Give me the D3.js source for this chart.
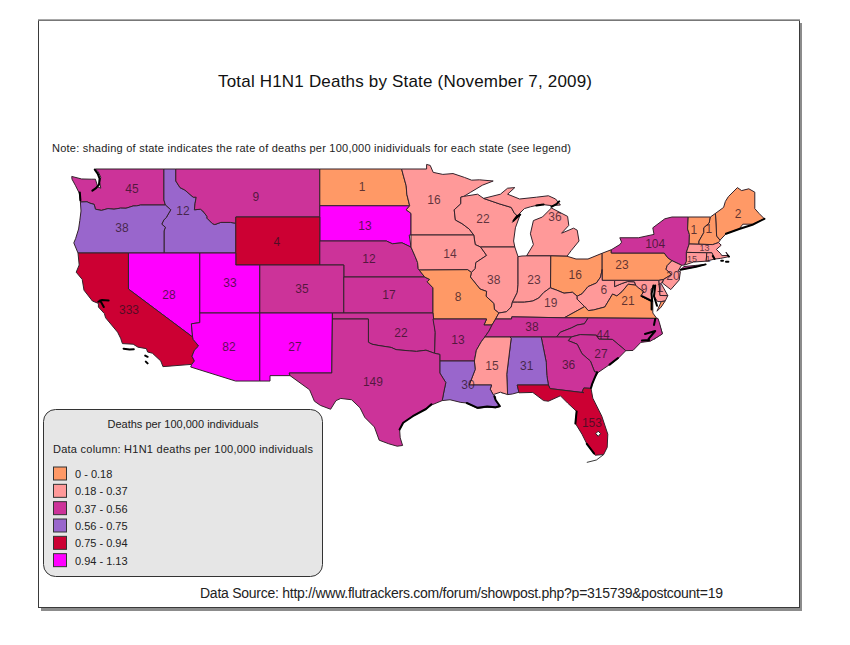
<!DOCTYPE html>
<html>
<head>
<meta charset="utf-8">
<title>Total H1N1 Deaths by State</title>
<script src="https://cdn.jsdelivr.net/npm/d3@7"></script>
<style>
    body { margin: 0; background: #fff; }
    text { font-family: "Liberation Sans", Arial, sans-serif; }
</style>
</head>
<body>
<svg id="chart" width="850" height="645"></svg>
<script>
//chart values
const legendRanges = ["0 - 0.18", "0.18 - 0.37", "0.37 - 0.56", "0.56 - 0.75", "0.75 - 0.94", "0.94 - 1.13"];
const legendColors = ["#ff9966", "#ff9999", "#cc3399", "#9966cc", "#cc0033", "#ff00ff"];

const stateNames = ["WA","ID","MT","ND","SD","MN","WI","MI","OR","WY","NE","IA","IL","IN","OH","PA","NY","NV","UT","CO","KS","MO","KY","WV","VA","CA","AZ","NM","OK","AR","TN","NC","SC","GA","AL","MS","LA","TX","FL","ME","VT","NH","MA","CT","RI","NJ","MD","DE"];
const stateDeaths = [45,12,9,1,13,16,22,36,38,4,12,14,38,23,16,23,104,28,33,35,17,8,19,6,21,333,82,27,22,13,38,44,27,36,31,15,30,149,153,2,1,1,13,15,1,20,9,1];
//index into legendRanges
const stateClass = [2,3,2,0,5,1,1,1,3,4,2,1,1,1,0,0,2,5,5,2,2,0,1,1,0,4,5,5,2,2,2,2,2,2,3,1,3,2,4,0,0,0,1,1,1,1,1,1];
//label anchors, lon/lat
const labelLon = [-119.7,-115.45,-109.37,-100.53,-100.28,-94.53,-90.45,-84.45,-120.53,-107.62,-99.95,-93.2,-89.55,-86.2,-82.77,-78.87,-76.1,-116.62,-111.53,-105.53,-98.28,-92.53,-84.8,-80.37,-78.37,-119.95,-111.62,-106.12,-97.28,-92.53,-86.37,-80.45,-80.62,-83.32,-86.8,-89.7,-91.7,-99.62,-81.37,-69.2,-72.87,-71.62,-72.0,-73.03,-71.7,-74.62,-77.02,-75.7];
const labelLat = [47.33,45.5,46.67,47.5,44.25,46.42,44.83,45.0,44.08,42.92,41.5,41.92,39.75,39.75,40.17,41.0,42.75,38.5,39.5,39.0,38.5,38.33,37.83,38.92,38.0,37.25,34.17,34.17,35.33,34.75,35.83,35.17,33.58,32.67,32.58,32.58,31.0,31.25,27.83,45.25,43.92,44.0,42.42,41.5,41.5,40.08,39.0,39.08];
//states too small for the normal label size
const smallLabels = ["MA", "CT", "RI"];

//state outlines, lon/lat
const stateRings = {
    WA: [[[-122.75,49],[-117.04,49],[-117.04,46.42],[-116.92,46],[-118.98,46],[-119.3,45.93],[-119.6,45.92],[-120.2,45.73],[-120.65,45.74],[-121.2,45.65],[-121.7,45.7],[-122.25,45.55],[-122.75,45.65],[-122.85,46.05],[-123.2,46.15],[-123.45,46.27],[-124.0,46.25],[-124.05,46.7],[-124.1,47.0],[-124.4,47.6],[-124.7,48.15],[-124.72,48.38],[-123.9,48.17],[-123.1,48.15],[-122.75,48.15],[-122.55,47.5],[-122.3,47.4],[-122.4,47.9],[-122.3,48.3],[-122.5,48.75]]],
    OR: [[[-124.0,46.25],[-123.95,45.5],[-124.05,44.7],[-124.15,44],[-124.4,43.2],[-124.55,42.84],[-124.2,42],[-117.03,42],[-117.03,43.83],[-116.92,44.15],[-117.22,44.4],[-117.05,44.75],[-116.85,44.95],[-116.47,45.6],[-116.92,46],[-118.98,46],[-119.3,45.93],[-119.6,45.92],[-120.2,45.73],[-120.65,45.74],[-121.2,45.65],[-121.7,45.7],[-122.25,45.55],[-122.75,45.65],[-122.85,46.05],[-123.2,46.15],[-123.45,46.27]]],
    ID: [[[-117.04,49],[-116.05,49],[-116.05,48],[-115.7,47.45],[-115.3,47.25],[-114.95,46.95],[-114.6,46.65],[-114.35,46.65],[-114.45,46.1],[-114.5,45.6],[-114,45.65],[-113.8,45.5],[-113.45,45.05],[-113.45,44.9],[-113,44.45],[-112.8,44.37],[-112.3,44.55],[-111.5,44.55],[-111.05,44.48],[-111.05,42],[-117.03,42],[-117.03,43.83],[-116.92,44.15],[-117.22,44.4],[-117.05,44.75],[-116.85,44.95],[-116.47,45.6],[-116.92,46],[-117.04,46.42]]],
    MT: [[[-116.05,49],[-104.05,49],[-104.05,45],[-111.05,45],[-111.05,44.48],[-111.5,44.55],[-112.3,44.55],[-112.8,44.37],[-113,44.45],[-113.45,44.9],[-113.45,45.05],[-113.8,45.5],[-114,45.65],[-114.5,45.6],[-114.45,46.1],[-114.35,46.65],[-114.6,46.65],[-114.95,46.95],[-115.3,47.25],[-115.7,47.45],[-116.05,48]]],
    WY: [[[-111.05,45],[-104.05,45],[-104.05,41],[-111.05,41]]],
    ND: [[[-104.05,49],[-97.23,49],[-97.1,48.5],[-96.85,47.6],[-96.8,46.9],[-96.56,45.93],[-104.05,45.94]]],
    SD: [[[-104.05,45.94],[-96.56,45.93],[-96.85,45.6],[-96.45,45.3],[-96.45,43.5],[-96.6,43.5],[-96.45,42.49],[-97.2,42.85],[-98,42.77],[-98.5,43],[-104.05,43]]],
    NE: [[[-104.05,43],[-98.5,43],[-98,42.77],[-97.2,42.85],[-96.45,42.49],[-96.1,41.7],[-95.9,41.2],[-95.85,40.7],[-95.31,40],[-102.05,40],[-102.05,41],[-104.05,41]]],
    MN: [[[-97.23,49],[-95.15,49],[-95.15,49.38],[-94.85,49.3],[-94.6,48.72],[-93.8,48.55],[-92.95,48.62],[-92,48.3],[-91.4,48.07],[-90.75,48.1],[-89.6,48],[-90.5,47.65],[-91.5,47.05],[-92.05,46.72],[-92.3,46.65],[-92.3,46.1],[-92.85,45.6],[-92.75,44.75],[-92.2,44.45],[-91.6,44],[-91.22,43.5],[-96.45,43.5],[-96.45,45.3],[-96.85,45.6],[-96.56,45.93],[-96.8,46.9],[-96.85,47.6],[-97.1,48.5]]],
    IA: [[[-96.45,43.5],[-91.22,43.5],[-91.1,42.7],[-90.65,42.5],[-90.15,41.8],[-91.05,41.2],[-91.1,40.7],[-91.42,40.38],[-91.73,40.61],[-95.77,40.58],[-95.85,40.7],[-95.9,41.2],[-96.1,41.7],[-96.45,42.49]]],
    MO: [[[-95.77,40.58],[-91.73,40.61],[-91.42,40.38],[-91.5,40],[-90.7,39],[-90.15,38.8],[-90.2,38.4],[-89.55,37.8],[-89.5,37.3],[-89.13,37],[-89.4,36.5],[-89.7,36],[-90.37,36],[-90.15,36.5],[-94.62,36.5],[-94.62,39.1],[-95.1,39.6],[-94.9,39.8],[-95.31,40]]],
    KS: [[[-102.05,40],[-95.31,40],[-94.9,39.8],[-95.1,39.6],[-94.62,39.1],[-94.62,37],[-102.05,37]]],
    CO: [[[-109.05,41],[-102.05,41],[-102.05,37],[-109.05,37]]],
    UT: [[[-114.05,42],[-111.05,42],[-111.05,41],[-109.05,41],[-109.05,37],[-114.05,37]]],
    NV: [[[-120,42],[-114.05,42],[-114.05,36.2],[-114.75,36.1],[-114.65,35],[-120,39]]],
    CA: [[[-124.2,42],[-120,42],[-120,39],[-114.65,35],[-114.6,34.8],[-114.15,34.25],[-114.5,33.9],[-114.7,33.4],[-114.5,33],[-114.72,32.72],[-117.12,32.53],[-117.3,33],[-118,33.65],[-118.4,33.75],[-118.5,34.03],[-119.2,34.15],[-119.6,34.4],[-120.5,34.45],[-120.65,34.9],[-120.9,35.4],[-121.9,36.6],[-122,36.95],[-122.5,37.5],[-122.5,37.8],[-123,38],[-123.7,38.9],[-123.85,39.8],[-124.35,40.4],[-124.1,41]]],
    AZ: [[[-114.05,37],[-109.05,37],[-109.05,31.33],[-111.07,31.33],[-114.81,32.5],[-114.72,32.72],[-114.5,33],[-114.7,33.4],[-114.5,33.9],[-114.15,34.25],[-114.6,34.8],[-114.65,35],[-114.75,36.1],[-114.05,36.2]]],
    NM: [[[-109.05,37],[-103,37],[-103.05,32],[-106.6,32],[-106.53,31.78],[-108.2,31.78],[-108.2,31.33],[-109.05,31.33]]],
    OK: [[[-103,37],[-94.62,37],[-94.43,35.4],[-94.48,33.64],[-95.2,33.9],[-96,33.8],[-96.6,33.85],[-97.2,33.9],[-97.7,33.95],[-98.1,34.13],[-99.2,34.3],[-99.7,34.4],[-100,34.56],[-100,36.5],[-103,36.5]]],
    TX: [[[-103,36.5],[-100,36.5],[-100,34.56],[-99.7,34.4],[-99.2,34.3],[-98.1,34.13],[-97.7,33.95],[-97.2,33.9],[-96.6,33.85],[-96,33.8],[-95.2,33.9],[-94.48,33.64],[-94.05,33.55],[-94.05,33],[-94.05,32],[-93.55,31.2],[-93.7,30.5],[-93.85,29.7],[-94.7,29.35],[-95.2,29],[-96.3,28.4],[-97.1,27.85],[-97.4,27.3],[-97.35,26.6],[-97.15,25.96],[-97.6,25.9],[-98.3,26.1],[-99.1,26.4],[-99.5,27.5],[-100.3,28.3],[-100.7,29.1],[-101.4,29.77],[-102.3,29.88],[-102.7,29.7],[-103.15,28.98],[-104,29.3],[-104.5,29.65],[-104.9,30.6],[-106.53,31.78],[-106.6,32],[-103.05,32]]],
    AR: [[[-94.62,36.5],[-90.15,36.5],[-90.37,36],[-89.7,36],[-89.95,35.5],[-90.3,35],[-90.6,34.6],[-91,33.9],[-91.17,33],[-94.05,33],[-94.05,33.55],[-94.48,33.64],[-94.43,35.4]]],
    LA: [[[-94.05,33],[-91.17,33],[-91.1,32.3],[-91.6,31],[-89.73,31],[-89.85,30.65],[-89.6,30.2],[-89.4,30],[-89.4,29.7],[-89,29.2],[-89.4,29.1],[-90.1,29.15],[-90.9,29.05],[-91.8,29.5],[-92.3,29.55],[-93.2,29.77],[-93.85,29.7],[-93.7,30.5],[-93.55,31.2],[-94.05,32]]],
    MS: [[[-90.3,35],[-88.2,35],[-88.1,34.9],[-88.47,31.9],[-88.4,30.2],[-89,30.4],[-89.6,30.2],[-89.85,30.65],[-89.73,31],[-91.6,31],[-91.1,32.3],[-91.17,33],[-91,33.9],[-90.6,34.6]]],
    TN: [[[-90.3,35],[-89.95,35.5],[-89.7,36],[-89.4,36.5],[-88.07,36.5],[-88.05,36.68],[-83.68,36.6],[-81.68,36.59],[-82,36.1],[-82.6,36],[-83.1,35.75],[-84,35.4],[-84.32,35],[-88.2,35]]],
    KY: [[[-89.4,36.5],[-89.13,37],[-88.5,37.1],[-88.1,37.5],[-88,37.9],[-87.6,37.9],[-87,37.9],[-86.3,38],[-85.8,38.25],[-85.4,38.7],[-84.85,39.1],[-84.3,38.9],[-83.7,38.65],[-83,38.73],[-82.6,38.4],[-82.6,38.15],[-82,37.55],[-81.97,37.54],[-83.68,36.6],[-88.05,36.68],[-88.07,36.5]]],
    IL: [[[-90.65,42.5],[-87.8,42.5],[-87.55,41.75],[-87.53,41.7],[-87.53,39.35],[-87.6,38.7],[-88,37.9],[-88.1,37.5],[-88.5,37.1],[-89.13,37],[-89.5,37.3],[-89.55,37.8],[-90.2,38.4],[-90.15,38.8],[-90.7,39],[-91.5,40],[-91.42,40.38],[-91.1,40.7],[-91.05,41.2],[-90.15,41.8]]],
    IN: [[[-87.53,41.7],[-87.2,41.75],[-86.82,41.76],[-84.8,41.76],[-84.82,39.1],[-84.85,39.1],[-85.4,38.7],[-85.8,38.25],[-86.3,38],[-87,37.9],[-87.6,37.9],[-88,37.9],[-87.6,38.7],[-87.53,39.35]]],
    OH: [[[-84.8,41.76],[-83.45,41.73],[-82.7,41.5],[-81.7,41.5],[-80.52,41.98],[-80.52,40.64],[-80.65,40],[-81,39.5],[-81.7,39.2],[-82.2,38.6],[-82.6,38.4],[-83,38.73],[-83.7,38.65],[-84.3,38.9],[-84.82,39.1]]],
    PA: [[[-80.52,41.98],[-79.76,42.27],[-79.76,42],[-75.35,42],[-75.05,41.6],[-74.7,41.36],[-75.1,40.95],[-75.2,40.65],[-74.75,40.2],[-75.4,39.8],[-75.79,39.72],[-80.52,39.72],[-80.52,40.64]]],
    WV: [[[-80.52,40.64],[-80.52,39.72],[-79.48,39.72],[-79.48,39.2],[-78.9,39.45],[-78.4,39.62],[-77.83,39.6],[-77.72,39.32],[-78.35,39.4],[-78.87,38.77],[-79.3,38.42],[-79.65,38.58],[-80.3,37.5],[-81.25,37.25],[-81.68,37.2],[-81.97,37.54],[-82,37.55],[-82.6,38.15],[-82.6,38.4],[-82.2,38.6],[-81.7,39.2],[-81,39.5],[-80.65,40]]],
    VA: [[[-83.68,36.6],[-81.97,37.54],[-81.68,37.2],[-81.25,37.25],[-80.3,37.5],[-79.65,38.58],[-79.3,38.42],[-78.87,38.77],[-78.35,39.4],[-77.72,39.32],[-77.5,39.1],[-77.05,38.8],[-77.3,38.4],[-76.3,37.95],[-76.3,37.5],[-76.3,37],[-75.97,36.55],[-81.68,36.59]],[[-75.95,37.15],[-75.6,37.95],[-75.25,38.03],[-75.6,37.5]]],
    NC: [[[-81.68,36.59],[-75.87,36.55],[-75.75,36.2],[-75.5,35.25],[-76.5,34.65],[-77.3,34.55],[-77.95,33.88],[-78.55,33.86],[-79.67,34.8],[-80.8,34.82],[-81,35.15],[-82.35,35.2],[-83.1,35],[-84.32,35],[-84,35.4],[-83.1,35.75],[-82.6,36],[-82,36.1]]],
    SC: [[[-83.1,35],[-82.35,35.2],[-81,35.15],[-80.8,34.82],[-79.67,34.8],[-78.55,33.86],[-79.2,33.2],[-79.9,32.7],[-80.85,32.05],[-81.15,32.1],[-81.5,33],[-82.2,33.6],[-82.6,34.4],[-83.35,34.7]]],
    GA: [[[-85.6,35],[-84.32,35],[-83.1,35],[-83.35,34.7],[-82.6,34.4],[-82.2,33.6],[-81.5,33],[-81.15,32.1],[-80.85,32.05],[-81.2,31.5],[-81.45,30.72],[-82.05,30.75],[-82.2,30.4],[-82.05,30.36],[-84.86,30.7],[-85,31],[-85.13,31.8],[-85.18,32.9]]],
    AL: [[[-88.2,35],[-85.6,35],[-85.18,32.9],[-85.13,31.8],[-85,31],[-87.6,31],[-87.45,30.4],[-88,30.25],[-88.4,30.2],[-88.47,31.9],[-88.1,34.9]]],
    FL: [[[-87.6,31],[-85,31],[-84.86,30.7],[-82.05,30.36],[-82.2,30.4],[-82.05,30.75],[-81.45,30.72],[-81.3,29.9],[-80.55,28.4],[-80.05,26.9],[-80.1,25.8],[-80.4,25.2],[-81.1,25.15],[-81.8,26.1],[-82.2,26.9],[-82.75,27.8],[-82.65,28.8],[-83.4,29.5],[-84,30.1],[-85,29.65],[-85.4,29.7],[-86.3,30.38],[-87.45,30.35]]],
    MI: [[[-86.82,41.76],[-84.8,41.76],[-83.45,41.73],[-83.1,42.2],[-82.45,43],[-82.6,43.9],[-82.9,44.07],[-83.9,43.65],[-83.3,44.3],[-83.4,45.05],[-84.75,45.75],[-85.5,45],[-86.25,44.7],[-86.5,43.6],[-86.25,42.7]],[[-90.4,46.55],[-89,46.9],[-88.4,47.4],[-87.8,47.45],[-88.4,46.9],[-87.4,46.5],[-86,46.65],[-85,46.77],[-84.4,46.5],[-84,46],[-84.75,45.95],[-85.6,46.05],[-86.5,45.85],[-87,45.7],[-87.6,45.1],[-87.85,45.35],[-88.1,45.8],[-89.1,46.1]]],
    WI: [[[-92.05,46.72],[-90.9,46.9],[-90.4,46.55],[-89.1,46.1],[-88.1,45.8],[-87.85,45.35],[-87.6,45.1],[-88,44.55],[-87.35,45.2],[-87.75,44.1],[-87.9,43],[-87.8,42.5],[-90.65,42.5],[-91.1,42.7],[-91.22,43.5],[-91.6,44],[-92.2,44.45],[-92.75,44.75],[-92.85,45.6],[-92.3,46.1],[-92.3,46.65]]],
    NY: [[[-79.76,42.27],[-79.05,42.7],[-78.9,42.9],[-79.05,43.27],[-77.5,43.27],[-76.2,43.55],[-76.3,44.1],[-75.3,44.85],[-74.7,45],[-73.35,45],[-73.4,44],[-73.25,43.55],[-73.27,42.75],[-73.5,42.05],[-73.5,41.3],[-73.65,41],[-73.9,40.98],[-74.7,41.36],[-75.05,41.6],[-75.35,42],[-79.76,42]],[[-74,40.6],[-72.7,40.85],[-71.9,41.05],[-72.6,40.98],[-73.7,40.87]]],
    VT: [[[-73.35,45],[-71.5,45],[-71.6,44.5],[-72.05,44.1],[-72.05,43.7],[-72.45,43],[-72.46,42.73],[-73.27,42.75],[-73.25,43.55],[-73.4,44]]],
    NH: [[[-71.5,45],[-71.08,45.3],[-70.98,43.4],[-70.7,43.07],[-70.82,42.87],[-71.3,42.7],[-72.46,42.73],[-72.45,43],[-72.05,43.7],[-72.05,44.1],[-71.6,44.5]]],
    ME: [[[-71.08,45.3],[-70.4,45.8],[-70.25,46.3],[-70,46.7],[-69.25,47.45],[-68.9,47.2],[-68.3,47.35],[-67.8,47.07],[-67.8,45.7],[-67.45,45.3],[-67,44.85],[-68,44.4],[-68.8,44.4],[-69.1,44],[-70.2,43.6],[-70.7,43.07],[-70.98,43.4]]],
    MA: [[[-73.5,42.05],[-73.27,42.75],[-72.46,42.73],[-71.3,42.7],[-70.82,42.87],[-70.6,42.65],[-71,42.3],[-70.65,41.95],[-70.55,41.78],[-70.05,41.8],[-70.2,42.07],[-69.95,41.7],[-70.65,41.55],[-71.13,41.5],[-71.38,42.02],[-71.8,42.02]]],
    RI: [[[-71.8,42.02],[-71.38,42.02],[-71.13,41.5],[-71.85,41.32]]],
    CT: [[[-73.5,42.05],[-71.8,42.02],[-71.85,41.32],[-72.9,41.25],[-73.65,41],[-73.5,41.3]]],
    NJ: [[[-74.7,41.36],[-73.9,40.98],[-74.2,40.5],[-74,40.45],[-74.1,39.75],[-74.8,38.95],[-75.5,39.5],[-75.4,39.8],[-74.75,40.2],[-75.2,40.65],[-75.1,40.95]]],
    DE: [[[-75.79,39.72],[-75.4,39.8],[-75.6,39.45],[-75.05,38.45],[-75.7,38.46]]],
    MD: [[[-79.48,39.72],[-75.79,39.72],[-75.7,38.46],[-75.05,38.45],[-75.25,38.03],[-75.6,37.95],[-75.9,37.95],[-76.2,38.4],[-76.1,39.2],[-76.45,39],[-76.4,38.3],[-76.3,37.95],[-77.3,38.4],[-77.05,38.8],[-77.5,39.1],[-77.72,39.32],[-77.83,39.6],[-78.4,39.62],[-78.9,39.45],[-79.48,39.2]]]
};

//heavy black shoreline detail, lon/lat
const heavyCoast = [
    [[-122.8,48.95],[-122.55,48.6],[-122.4,48.2],[-122.45,47.7],[-122.7,47.4],[-123,47.2]],
    [[-124.05,47.05],[-124,46.4]],
    [[-122.5,37.95],[-122.2,38.08],[-121.65,38.05]],
    [[-122.35,38.05],[-122.05,37.5]],
    [[-120.4,34.02],[-119.9,33.95],[-119.55,33.98]],
    [[-118.6,33.45],[-118.4,33.35]],
    [[-118.55,32.95],[-118.4,32.8]],
    [[-94.75,29.4],[-95.2,29],[-96.3,28.4],[-97.1,27.85],[-97.4,27.3]],
    [[-91.8,29.5],[-90.9,29.1],[-90.1,29.2],[-89.4,29.15],[-89.05,29.25],[-89.4,29.75],[-89.5,30.05]],
    [[-82.75,27.8],[-82.65,28.8]],
    [[-81.8,26.1],[-81.2,25.3]],
    [[-76.95,35.25],[-76.1,35.5],[-76.65,34.85]],
    [[-77.2,34.7],[-76.6,34.75]],
    [[-76.1,36.5],[-76.2,36]],
    [[-80.95,32.05],[-81.35,31.1],[-81.45,30.75]],
    [[-79.9,32.7],[-79.2,33.25]],
    [[-76.25,39.3],[-76.4,38.6],[-76.35,38]],
    [[-77.2,38.4],[-76.4,38],[-76.4,37.3]],
    [[-76.1,39.3],[-76.2,38.4],[-75.95,37.6]],
    [[-74,40.6],[-72.7,40.85],[-71.9,41.05]],
    [[-70.2,43.6],[-69.1,44],[-68,44.35],[-67,44.85]],
    [[-71.3,41.75],[-71.15,41.5]],
    [[-70.6,41.35],[-70.45,41.35]],
    [[-70.2,41.28],[-70,41.28]],
    [[-70.05,41.8],[-69.95,41.7]],
    [[-84.75,45.85],[-84.3,46.1],[-84.1,46.3]],
    [[-87.6,45.1],[-87.9,44.7],[-87.35,45.2]],
    [[-86,45.95],[-85.4,46.05]]
];
//thin offshore lines, lon/lat
const thinCoast = [
    [[-75.9,36.5],[-75.5,35.3],[-76.2,34.8]],
    [[-81.8,24.55],[-81,24.75],[-80.4,25.2]],
    [[-88.9,30.35],[-88.1,30.3]]
];
const lakeOkeechobee = [[-81.05,26.95],[-80.85,27.15],[-80.65,26.95],[-80.85,26.72]];

const svg = d3.select("#chart");

//page frame and shadow
svg.append("rect").attr("x", 41).attr("y", 23).attr("width", 761).attr("height", 588).attr("fill", "#8c8c8c");
svg.append("rect").attr("x", 38.5).attr("y", 20.5).attr("width", 761).attr("height", 587)
    .attr("fill", "#fff").attr("stroke", "#3a3a3a").attr("stroke-width", 1);
svg.append("line").attr("x1", 38).attr("x2", 800).attr("y1", 20).attr("y2", 20)
    .attr("stroke", "#8c8c8c").attr("stroke-width", 1.5);

//set projection, plain lon/lat at 12px per degree
const projection = d3.geoIdentity().reflectY(true).scale(12).translate([1568.4, 757]);
const path = d3.geoPath(projection);
const colorScale = d3.scaleOrdinal().domain(d3.range(legendRanges.length)).range(legendColors);

//geojson rings have to end where they start
const closeRing = r => [...r, r[0]];

const states = stateNames.map((name, i) => ({
    type: "Feature",
    properties: {name: name, deaths: stateDeaths[i], cls: stateClass[i], lon: labelLon[i], lat: labelLat[i]},
    geometry: {type: "MultiPolygon", coordinates: stateRings[name].map(r => [closeRing(r)])}
}));

const map = svg.append("g");
map.append("path")
    .datum({type: "MultiLineString", coordinates: thinCoast})
    .attr("d", path).attr("fill", "none").attr("stroke", "#222").attr("stroke-width", 0.9);

map.selectAll("path.state").data(states).join("path")
    .attr("class", "state")
    .attr("d", path)
    .attr("fill", d => colorScale(d.properties.cls))
    .attr("stroke", "#33222b")
    .attr("stroke-width", 1)
    .attr("stroke-linejoin", "round");

map.append("path")
    .datum({type: "MultiLineString", coordinates: heavyCoast})
    .attr("d", path).attr("fill", "none").attr("stroke", "#000")
    .attr("stroke-width", 2).attr("stroke-linejoin", "round").attr("stroke-linecap", "round");

map.append("path")
    .datum({type: "Polygon", coordinates: [closeRing(lakeOkeechobee)]})
    .attr("d", path).attr("fill", "#fff").attr("stroke", "#222").attr("stroke-width", 1);

//state labels
map.selectAll("text.count").data(states).join("text")
    .attr("class", "count")
    .attr("x", d => projection([d.properties.lon, d.properties.lat])[0])
    .attr("y", d => projection([d.properties.lon, d.properties.lat])[1])
    .attr("dy", "0.36em")
    .attr("text-anchor", "middle")
    .attr("font-size", d => smallLabels.includes(d.properties.name) ? 9 : 12)
    .attr("fill", "#2b1020")
    .attr("fill-opacity", 0.75)
    .text(d => d.properties.deaths);

//titles
svg.append("text").attr("x", 218).attr("y", 87).attr("font-size", 17).attr("fill", "#111")
    .attr("textLength", 374).text("Total H1N1 Deaths by State (November 7, 2009)");
svg.append("text").attr("x", 52).attr("y", 152).attr("font-size", 11).attr("fill", "#222")
    .attr("textLength", 519).text("Note: shading of state indicates the rate of deaths per 100,000 inidividuals for each state (see legend)");
svg.append("text").attr("x", 200).attr("y", 598).attr("font-size", 14).attr("fill", "#222")
    .attr("textLength", 523).text("Data Source: http://www.flutrackers.com/forum/showpost.php?p=315739&postcount=19");

//legend
const legend = svg.append("g");
legend.append("rect").attr("x", 43.5).attr("y", 409.5).attr("width", 279).attr("height", 167).attr("rx", 12)
    .attr("fill", "#e6e6e6").attr("stroke", "#333").attr("stroke-width", 1);
legend.append("text").attr("x", 183).attr("y", 428).attr("text-anchor", "middle").attr("font-size", 11)
    .attr("fill", "#222").text("Deaths per 100,000 individuals");
legend.append("text").attr("x", 53).attr("y", 453).attr("font-size", 11).attr("fill", "#222")
    .attr("textLength", 260).text("Data column: H1N1 deaths per 100,000 individuals");

const legendRows = d3.scaleBand().domain(d3.range(legendRanges.length)).range([465, 569]);
const rows = legend.selectAll("g.row").data(legendRanges).join("g").attr("class", "row")
    .attr("transform", (d, i) => `translate(0,${legendRows(i)})`);
rows.append("rect").attr("x", 53.5).attr("y", 2).attr("width", 13).attr("height", 13)
    .attr("fill", (d, i) => legendColors[i]).attr("stroke", "#333").attr("stroke-width", 1);
rows.append("text").attr("x", 75).attr("y", 13).attr("font-size", 11).attr("fill", "#222").text(d => d);
</script>
</body>
</html>
